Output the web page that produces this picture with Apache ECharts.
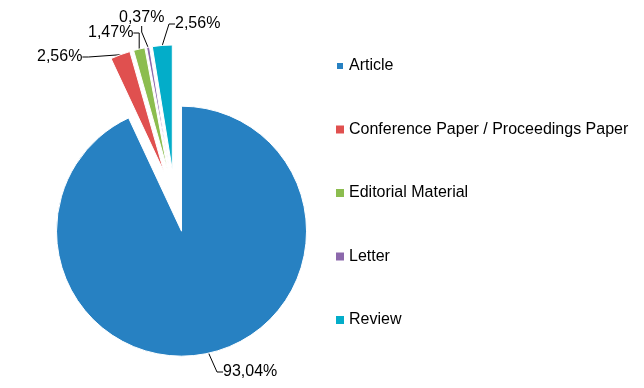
<!DOCTYPE html>
<html><head><meta charset="utf-8">
<script src="https://cdn.jsdelivr.net/npm/echarts@6/dist/echarts.min.js"></script>
<style>html,body{margin:0;padding:0;background:#fff}#c{width:644px;height:388px}</style>
</head><body><div id="c"></div>
<script>
const categories = ['Article', 'Conference Paper / Proceedings Paper', 'Editorial Material', 'Letter', 'Review'];
const percentages = [93.04, 2.56, 1.47, 0.37, 2.56];
const sliceColors = ['#2781c2', '#e0504f', '#8cbd4f', '#8c68ac', '#03adc9'];
// label anchor points (left edge of label box incl. padding, vertical middle), in px
const labelAnchors = [[219, 372], [33, 57], [84, 33], [115, 18], [171, 24]];

const PIE_CENTER = [174.8, 200.9];
const PIE_RADIUS = 125;
const EXPLODE = 31;
const FONT = '"Liberation Sans", Arial, sans-serif';

const total = percentages.reduce((a, b) => a + b, 0);
let cum = 0;
const midAngles = percentages.map(v => {
  const m = (cum + v / 2) / total * 2 * Math.PI;
  cum += v;
  return m;
});
const fmt = v => v.toFixed(2).replace('.', ',') + '%';

// one pie per slice, each shifted outwards along its bisector (exploded pie)
const series = categories.map((name, i) => ({
  type: 'pie',
  center: [PIE_CENTER[0] + EXPLODE * Math.sin(midAngles[i]), PIE_CENTER[1] - EXPLODE * Math.cos(midAngles[i])],
  radius: PIE_RADIUS,
  startAngle: 90,
  clockwise: true,
  silent: true,
  avoidLabelOverlap: false,
  emphasis: {disabled: true},
  itemStyle: {borderColor: '#fff', borderWidth: 1},
  label: {
    show: true,
    position: 'outside',
    fontSize: 16,
    color: '#000',
    fontFamily: FONT,
    padding: [0, 4, 0, 4],
    formatter: p => fmt(p.value)
  },
  labelLine: {show: true, length: 8, length2: 6, lineStyle: {color: '#000', width: 1}},
  labelLayout: p => p.dataIndex === i ? {
    x: labelAnchors[i][0],
    y: labelAnchors[i][1],
    align: 'left',
    verticalAlign: 'middle'
  } : {},
  data: categories.map((n, j) => j === i
    ? {name: n, value: percentages[j], itemStyle: {color: sliceColors[j]}}
    : {name: n, value: percentages[j], itemStyle: {color: 'rgba(0,0,0,0)', borderWidth: 0},
       label: {show: false}, labelLine: {show: false}})
}));

const chart = echarts.init(document.getElementById('c'), null, {renderer: 'canvas'});
chart.setOption({
  animation: false,
  textStyle: {fontFamily: FONT},
  legend: {
    orient: 'vertical',
    left: 335,
    top: 58,
    padding: 0,
    itemWidth: 8,
    itemHeight: 8,
    itemGap: 47.5,
    icon: 'rect',
    selectedMode: false,
    textStyle: {fontSize: 16, color: '#000', fontFamily: FONT},
    data: categories.map((n, i) => ({name: n, itemStyle: {color: sliceColors[i]}}))
  },
  series: series
});
</script></body></html>
